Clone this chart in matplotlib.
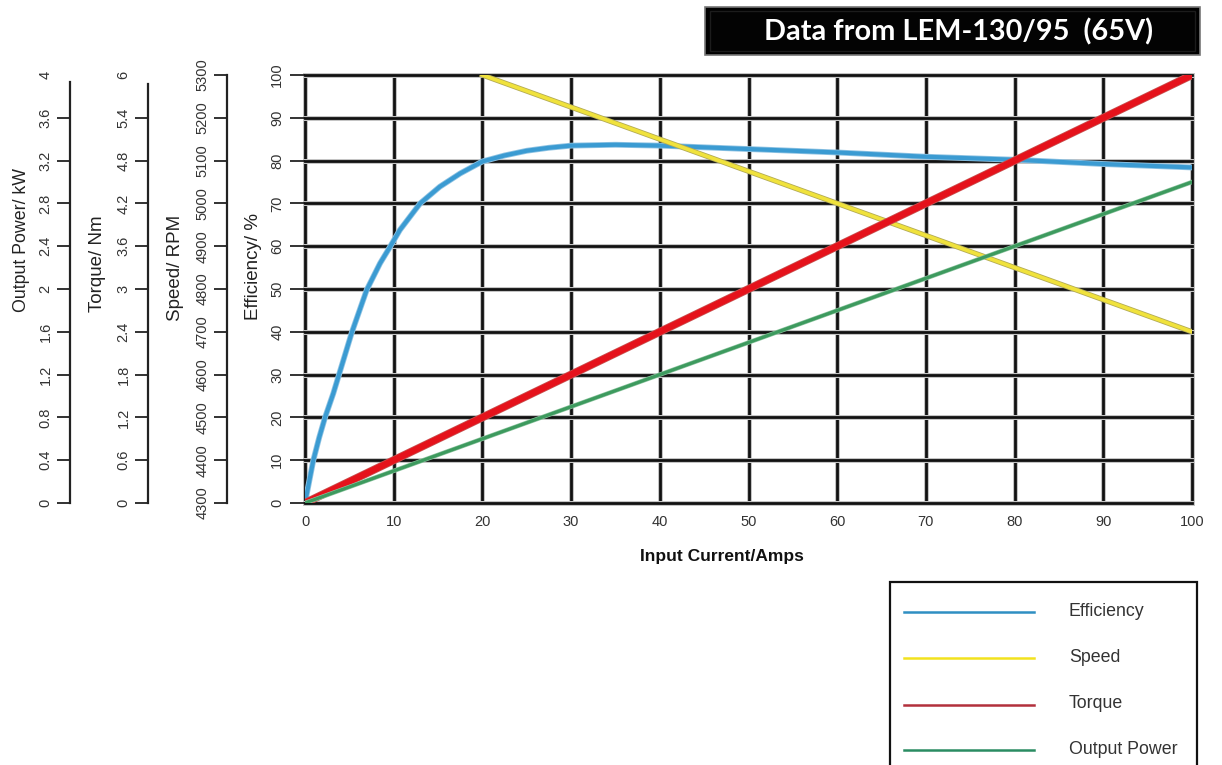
import matplotlib
matplotlib.use('Agg')
import matplotlib.pyplot as plt
import matplotlib.patheffects as pe
from matplotlib.patches import Rectangle
from matplotlib.lines import Line2D

plt.rcParams['font.family'] = ['Liberation Sans', 'DejaVu Sans']

# ---------------- data ----------------
eff_current = [0, 0.94, 1.6, 2.26, 3.19, 3.76, 5.27, 6.96, 8.46, 9.6, 10.7, 12.98,
               15.2, 17.5, 20, 22.5, 25, 27.5, 30, 35, 40, 45, 50, 60, 70, 80, 90, 100]
efficiency = [0, 10, 15.3, 20, 25.6, 29.5, 39.8, 49.8, 56, 59.9, 63.8, 70,
              73.9, 77, 79.8, 81.2, 82.3, 83, 83.5, 83.7, 83.5, 83.1, 82.7, 81.9, 80.9, 80.2, 79.2, 78.4]

speed_current = [20, 40, 60, 80, 100]
speed_rpm = [5300, 5150, 5000, 4850, 4700]

lin_current = [0, 10, 20, 30, 40, 50, 60, 70, 80, 90, 100]
torque_nm = [0, 0.6, 1.2, 1.8, 2.4, 3.0, 3.6, 4.2, 4.8, 5.4, 6.0]
power_kw = [0, 0.3, 0.6, 0.9, 1.2, 1.5, 1.8, 2.1, 2.4, 2.7, 3.0]

x_ticks = [0, 10, 20, 30, 40, 50, 60, 70, 80, 90, 100]
eff_ticks = [0, 10, 20, 30, 40, 50, 60, 70, 80, 90, 100]
speed_ticks = [4300, 4400, 4500, 4600, 4700, 4800, 4900, 5000, 5100, 5200, 5300]
torque_ticks = [0, 0.6, 1.2, 1.8, 2.4, 3, 3.6, 4.2, 4.8, 5.4, 6]
torque_labels = ['0', '0.6', '1.2', '1.8', '2.4', '3', '3.6', '4.2', '4.8', '5.4', '6']
power_ticks = [0, 0.4, 0.8, 1.2, 1.6, 2, 2.4, 2.8, 3.2, 3.6, 4]
power_labels = ['0', '0.4', '0.8', '1.2', '1.6', '2', '2.4', '2.8', '3.2', '3.6', '4']

title_text = 'Data from LEM-130/95  (65V)'
legend_names = ['Efficiency', 'Speed', 'Torque', 'Output Power']
legend_colors = ['#2f8fc2', '#f2e21e', '#b2303c', '#2a8c62']

# ---------------- figure ----------------
W, H = 1222, 765
fig = plt.figure(figsize=(W / 100, H / 100), dpi=100)
fig.patch.set_facecolor('white')

def fx(px):
    return px / W

def fy(py):
    return 1 - py / H

left_px, right_px, top_px, bot_px = 305, 1192, 75, 503
span = right_px - left_px
vspan = bot_px - top_px

def ax_x(px):
    return (px - left_px) / span

def ax_y(py):
    return (bot_px - py) / vspan

ax = fig.add_axes([fx(left_px), fy(bot_px), span / W, vspan / H])
ax.set_xlim(0, 100)
ax.set_ylim(0, 100)
for s in ax.spines.values():
    s.set_visible(False)
ax.patch.set_alpha(0)

grid_pe = [pe.Stroke(linewidth=3.6, foreground='#c4c4c4'), pe.Normal()]
ax.set_xticks(x_ticks)
ax.set_yticks(eff_ticks)
ax.grid(True, color='#111111', linewidth=2.0, path_effects=grid_pe)
for gl in ax.get_xgridlines() + ax.get_ygridlines():
    gl.set_clip_on(False)

tick_col = '#333333'
ax.tick_params(axis='x', length=0, pad=9, labelsize=10.5, labelcolor=tick_col)
ax.tick_params(axis='y', length=11, width=1.2, color='#111111', pad=4,
               labelsize=10.5, labelcolor=tick_col, labelrotation=90)
for lab in ax.get_yticklabels():
    lab.set_va('center')
ax.set_ylabel('Efficiency/ %', fontsize=13.5, color='#222222')
ax.yaxis.set_label_coords(ax_x(254), ax_y(266))
ax.yaxis.label.set_va('center')

ax.set_xlabel('Input Current/Amps', fontsize=12.5, fontweight='bold', color='#111111')
ax.xaxis.set_label_coords(ax_x(722), ax_y(556))
ax.xaxis.label.set_va('center')

# efficiency
ax.plot(eff_current, efficiency, color='#3b9bd2', lw=3.0, solid_capstyle='round',
        solid_joinstyle='round',
        path_effects=[pe.Stroke(linewidth=4.2, foreground='#8fc3e3'), pe.Normal()], zorder=3)


def make_axis(frac_px, lo, hi, ticks, labels, label, label_xy, fsize, bound_hi=None):
    tw = ax.twinx()
    tw.set_ylim(lo, hi)
    tw.patch.set_alpha(0)
    for name, s in tw.spines.items():
        s.set_visible(False)
    tw.yaxis.tick_left()
    tw.yaxis.set_label_position('left')
    sp = tw.spines['left']
    sp.set_visible(True)
    sp.set_position(('axes', ax_x(frac_px)))
    sp.set_linewidth(1.6)
    sp.set_color('#222222')
    if bound_hi is not None:
        sp.set_bounds(lo, bound_hi)
    tw.set_yticks(ticks)
    tw.set_yticklabels(labels)
    tw.tick_params(axis='y', length=9.5, width=1.3, color='#222222', pad=3,
                   labelsize=10.5, labelcolor=tick_col, labelrotation=90)
    for lab in tw.get_yticklabels():
        lab.set_va('center')
    tw.set_ylabel(label, fontsize=fsize, color='#222222')
    tw.yaxis.set_label_coords(ax_x(label_xy[0]), ax_y(label_xy[1]))
    tw.yaxis.label.set_va('center')
    return tw

ax_speed = make_axis(227, 4300, 5300, speed_ticks, [str(t) for t in speed_ticks],
                     'Speed/ RPM', (175, 268), 13.5)
ax_torque = make_axis(148, 0, 6, torque_ticks, torque_labels,
                      'Torque/ Nm', (97, 264), 13.5, bound_hi=5.88)
ax_power = make_axis(70, 0, 4, power_ticks, power_labels,
                     'Output Power/ kW', (22, 240), 12.8, bound_hi=3.93)
for tw in (ax_torque, ax_power):
    tw.yaxis.get_major_ticks()[-1].tick1line.set_visible(False)

# other series, each on its own scale
ax_power.plot(lin_current, power_kw, color='#3d9a5e', lw=2.3,
              path_effects=[pe.Stroke(linewidth=3.2, foreground='#8cc49f'), pe.Normal()], zorder=3)
ax_torque.plot(lin_current, torque_nm, color='#e5121b', lw=4.6,
               path_effects=[pe.Stroke(linewidth=5.8, foreground='#c9504f'), pe.Normal()], zorder=3)
ax_speed.plot(speed_current, speed_rpm, color='#f0e23c', lw=2.6,
              path_effects=[pe.Stroke(linewidth=3.8, foreground='#b3ab55'), pe.Normal()], zorder=3)
for a in (ax_power, ax_torque, ax_speed):
    a.set_xlim(0, 100)

# ---------------- title box ----------------
fig.add_artist(Rectangle((fx(705), fy(55)), fx(1200) - fx(705), fy(7) - fy(55),
                         transform=fig.transFigure, facecolor='#000000',
                         edgecolor='#777777', linewidth=1.2))
fig.add_artist(Rectangle((fx(710), fy(51)), fx(1195) - fx(710), fy(11) - fy(51),
                         transform=fig.transFigure, facecolor='#030303',
                         edgecolor='#1c1c1c', linewidth=1.0))
t = fig.text(fx(959), fy(32), title_text, color='white', fontweight='bold',
             fontsize=20, ha='center', va='center', family=['Lato', 'DejaVu Sans'])
r = fig.canvas.get_renderer()
w = t.get_window_extent(renderer=r).width
t.set_fontsize(20 * 388 / w)

# ---------------- legend box ----------------
fig.add_artist(Rectangle((fx(890), fy(800)), fx(1197) - fx(890), fy(582) - fy(800),
                         transform=fig.transFigure, facecolor='white',
                         edgecolor='#111111', linewidth=1.6, clip_on=False))
leg_y = [612, 658, 705, 750]
for name, col, yy in zip(legend_names, legend_colors, leg_y):
    fig.add_artist(Line2D([fx(904), fx(1034)], [fy(yy), fy(yy)], transform=fig.transFigure,
                          color=col, lw=1.8))
    fig.text(fx(1069), fy(yy - 1), name, fontsize=12.8, color='#333333', ha='left', va='center')

fig.savefig('out.png', dpi=100, facecolor='white')
